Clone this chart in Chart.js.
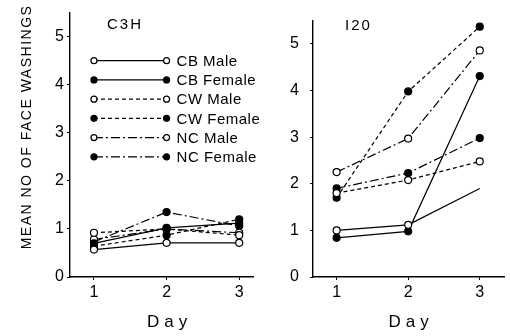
<!DOCTYPE html>
<html>
<head>
<meta charset="utf-8">
<script src="https://cdn.jsdelivr.net/npm/chart.js@4"></script>
<style>
  body { margin: 0; background: #fff; }
  #wrap { position: relative; width: 510px; height: 336px; }
  #wrap canvas { position: absolute; top: 0; }
</style>
</head>
<body>
<div id="wrap">
  <canvas id="c3h" width="260" height="336" style="left:0"></canvas>
  <canvas id="i20" width="250" height="336" style="left:260px"></canvas>
</div>
<script>
const days = [1, 2, 3];
const yTicks = [0, 1, 2, 3, 4, 5];
const seriesNames = ['CB Male', 'CB Female', 'CW Male', 'CW Female', 'NC Male', 'NC Female'];

// C3H strain
const c3hCBMale = [0.57, 0.71, 0.71];
const c3hCBFemale = [0.70, 1.02, 1.12];
const c3hCWMale = [0.92, 1.00, 0.87];
const c3hCWFemale = [0.64, 0.87, 1.20];
const c3hNCMale = [0.78, 1.00, 0.92];
const c3hNCFemale = [0.73, 1.35, 1.06];

// I20 strain
const i20CBMale = [1.00, 1.12, 1.90];
const i20CBFemale = [0.84, 0.98, 4.31];
const i20CWMale = [1.80, 2.08, 2.48];
const i20CWFemale = [1.70, 3.98, 5.37];
const i20NCMale = [2.25, 2.97, 4.86];
const i20NCFemale = [1.90, 2.23, 2.98];

const FONT = "'Liberation Sans', 'DejaVu Sans', sans-serif";
const dashes = [[], [], [4, 3], [4, 3], [9, 3, 2, 3], [9, 3, 2, 3]];
const filled = [false, true, false, true, false, true];

function makeDatasets(values, hideLast) {
  return values.map((vals, k) => ({
    label: seriesNames[k],
    data: vals.map((v, i) => ({ x: days[i], y: v })),
    borderColor: '#000',
    borderWidth: 1.2,
    borderDash: dashes[k],
    pointRadius: ctx => (hideLast === k && ctx.dataIndex === 2) ? 0 : 3.5,
    pointBorderWidth: 1.2,
    pointBorderColor: '#000',
    pointBackgroundColor: filled[k] ? '#000' : '#fff',
    tension: 0
  }));
}

const notes = {
  id: 'notes',
  afterDraw(chart, args, opts) {
    const ctx = chart.ctx;
    const xs = chart.scales.x, ys = chart.scales.y;
    ctx.save();
    ctx.fillStyle = '#000';
    ctx.textBaseline = 'middle';
    // panel name
    ctx.font = '15px ' + FONT;
    ctx.letterSpacing = '2px';
    ctx.textAlign = 'left';
    ctx.fillText(opts.name, opts.nameX, opts.nameY);
    // x axis title
    ctx.letterSpacing = '5px';
    ctx.font = '17px ' + FONT;
    ctx.textAlign = 'center';
    ctx.fillText('Day', (xs.getPixelForValue(2)) + 3, 322);
    // y axis title
    if (opts.yTitle) {
      ctx.save();
      ctx.translate(27, 127);
      ctx.rotate(-Math.PI / 2);
      ctx.letterSpacing = '1.5px';
      ctx.font = '14px ' + FONT;
      ctx.fillText(opts.yTitle, 0, 0);
      ctx.restore();
    }
    // legend
    if (opts.legend) {
      const x1 = xs.getPixelForValue(1), x2 = xs.getPixelForValue(2);
      ctx.letterSpacing = '0.5px';
      ctx.font = '15px ' + FONT;
      ctx.textAlign = 'left';
      seriesNames.forEach((name, k) => {
        const y = ys.getPixelForValue(4.5 - 0.4 * k);
        ctx.strokeStyle = '#000';
        ctx.lineWidth = 1.2;
        ctx.setLineDash(dashes[k]);
        ctx.beginPath();
        ctx.moveTo(x1, y);
        ctx.lineTo(x2, y);
        ctx.stroke();
        ctx.setLineDash([]);
        [x1, x2].forEach(px => {
          ctx.beginPath();
          ctx.arc(px, y, 3, 0, Math.PI * 2);
          ctx.fillStyle = filled[k] ? '#000' : '#fff';
          ctx.fill();
          ctx.stroke();
        });
        ctx.fillStyle = '#000';
        ctx.fillText(name, x2 + 10, y + 1);
      });
    }
    ctx.restore();
  }
};

function makeChart(id, datasets, xMax, yWidth, tickPad, padRight, noteOpts) {
  return new Chart(document.getElementById(id), {
    type: 'line',
    data: { datasets },
    plugins: [notes],
    options: {
      responsive: false,
      animation: false,
      layout: { padding: { top: 8, right: padRight, left: 0, bottom: 0 } },
      plugins: { legend: { display: false }, tooltip: { enabled: false }, notes: noteOpts },
      scales: {
        x: {
          type: 'linear', min: 0.67, max: xMax,
          afterBuildTicks: s => { s.ticks = days.map(v => ({ value: v })); },
          afterFit: s => { s.height = 59; },
          border: { color: '#000', width: 1.4 },
          grid: { drawOnChartArea: false, color: '#000', tickLength: 3 },
          ticks: { color: '#000', font: { family: FONT, size: 16 }, padding: 3 }
        },
        y: {
          min: 0, max: 5.5,
          afterBuildTicks: s => { s.ticks = yTicks.map(v => ({ value: v })); },
          afterFit: s => { s.width = yWidth; },
          border: { color: '#000', width: 1.4 },
          grid: { drawOnChartArea: false, color: '#000', tickLength: 3 },
          ticks: { color: '#000', font: { family: FONT, size: 16 }, padding: tickPad }
        }
      }
    }
  });
}

makeChart('c3h',
  makeDatasets([c3hCBMale, c3hCBFemale, c3hCWMale, c3hCWFemale, c3hNCMale, c3hNCFemale], -1),
  3.19, 70, 3, 7,
  { name: 'C3H', nameX: 107, nameY: 25, yTitle: 'MEAN NO OF FACE WASHINGS', legend: true });

makeChart('i20',
  makeDatasets([i20CBMale, i20CBFemale, i20CWMale, i20CWFemale, i20NCMale, i20NCFemale], 0),
  3.35, 53, 11, 2,
  { name: 'I20', nameX: 85, nameY: 26, legend: false });
</script>
</body>
</html>
